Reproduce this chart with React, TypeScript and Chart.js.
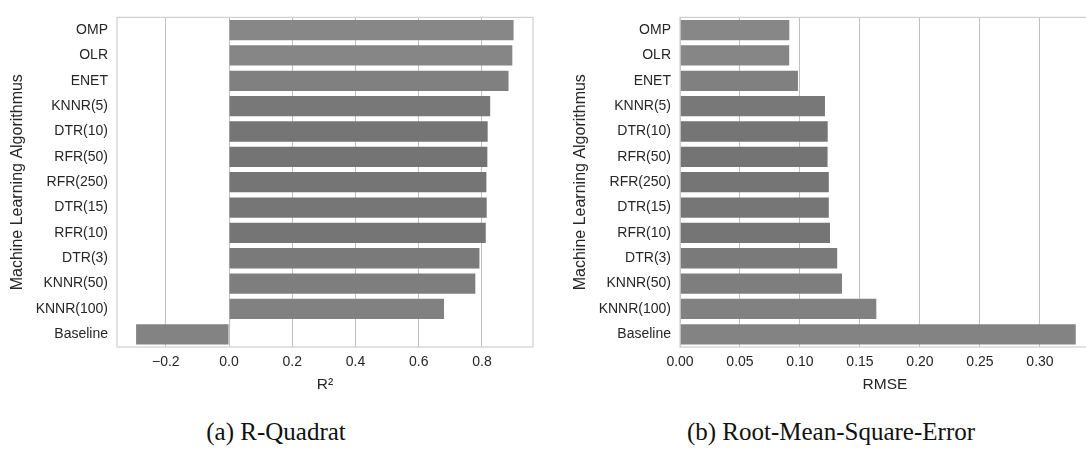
import React, { useEffect, useRef } from "react";
import { Chart, registerables } from "chart.js";

Chart.register(...registerables);

const ALGORITHMS = [
  "OMP", "OLR", "ENET", "KNNR(5)", "DTR(10)", "RFR(50)", "RFR(250)",
  "DTR(15)", "RFR(10)", "DTR(3)", "KNNR(50)", "KNNR(100)", "Baseline",
];

const R2_VALUES = [0.900, 0.896, 0.884, 0.826, 0.818, 0.817, 0.814, 0.815, 0.812, 0.792, 0.779, 0.680, -0.294];
const RMSE_VALUES = [0.0911, 0.0910, 0.0983, 0.1208, 0.1231, 0.1230, 0.1240, 0.1240, 0.1250, 0.1310, 0.1350, 0.1636, 0.3298];

const R2_TICKS = [-0.2, 0.0, 0.2, 0.4, 0.6, 0.8];
const R2_TICK_LABELS = ["\u22120.2", "0.0", "0.2", "0.4", "0.6", "0.8"];
const RMSE_TICKS = [0.0, 0.05, 0.1, 0.15, 0.2, 0.25, 0.3];
const RMSE_TICK_LABELS = ["0.00", "0.05", "0.10", "0.15", "0.20", "0.25", "0.30"];

const BAR_COLORS = [
  "#878787", "#868686", "#808080", "#787878", "#757575", "#747474", "#757575",
  "#767676", "#757575", "#7a7a7a", "#7e7e7e", "#818181", "#838383",
];

const SANS = "'Liberation Sans', Arial, sans-serif";
const TEXT = "#262626";

const frame = {
  id: "frame",
  afterDatasetsDraw(chart: any) {
    const { ctx, chartArea: a } = chart;
    ctx.save();
    ctx.strokeStyle = "#cfcfcf";
    ctx.lineWidth = 1.25;
    ctx.strokeRect(a.left, a.top, a.right - a.left, a.bottom - a.top);
    ctx.restore();
  },
};

function makeConfig(values: number[], ticks: number[], tickLabels: string[], min: number, max: number, xTitle: string, padRight: number) {
  return {
    type: "bar",
    data: {
      labels: ALGORITHMS,
      datasets: [
        {
          data: values,
          backgroundColor: BAR_COLORS,
          borderWidth: 0,
          barPercentage: 0.8,
          categoryPercentage: 1.0,
        },
      ],
    },
    options: {
      indexAxis: "y",
      animation: false,
      responsive: false,
      maintainAspectRatio: false,
      devicePixelRatio: 1,
      layout: { padding: { top: 10, right: padRight, left: 0, bottom: 0 } },
      plugins: { legend: { display: false }, tooltip: { enabled: false } },
      scales: {
        x: {
          type: "linear",
          min,
          max,
          grid: { color: "#bfbfbf", lineWidth: 1, drawTicks: false },
          border: { display: false },
          afterBuildTicks: (s: any) => {
            s.ticks = ticks.map((v) => ({ value: v }));
          },
          ticks: {
            padding: 7,
            color: TEXT,
            font: { family: SANS, size: 14 },
            callback: (_v: any, i: number) => tickLabels[i],
          },
          title: {
            display: true,
            text: xTitle,
            color: TEXT,
            font: { family: SANS, size: 15.5 },
            padding: { top: 0, bottom: 6 },
          },
          afterFit: (s: any) => {
            s.height = 53;
          },
        },
        y: {
          type: "category",
          grid: { display: false, drawTicks: false },
          border: { display: false },
          ticks: { padding: 9, color: TEXT, font: { family: SANS, size: 14 } },
          title: {
            display: true,
            text: "Machine Learning Algorithmus",
            color: TEXT,
            font: { family: SANS, size: 16 },
            padding: { top: 8, bottom: 0 },
          },
          afterFit: (s: any) => {
            s.width = 117;
          },
        },
      },
    },
    plugins: [frame],
  };
}

function BarPanel(props: { config: any; left: number; width: number }) {
  const ref = useRef<HTMLCanvasElement | null>(null);
  useEffect(() => {
    if (!ref.current) return;
    const chart = new Chart(ref.current, props.config);
    return () => chart.destroy();
  }, []);
  return (
    <canvas
      ref={ref}
      width={props.width}
      height={400}
      style={{ position: "absolute", left: props.left, top: 0, width: props.width, height: 400 }}
    />
  );
}

const captionStyle: React.CSSProperties = {
  position: "absolute",
  top: 418,
  fontFamily: "'Liberation Serif', 'Times New Roman', serif",
  fontSize: 25,
  lineHeight: "28px",
  color: "#111",
  whiteSpace: "nowrap",
  transform: "translateX(-50%)",
};

export default function App() {
  const r2Config = makeConfig(R2_VALUES, R2_TICKS, R2_TICK_LABELS, -0.3544, 0.9614, "R\u00b2", 12);
  const rmseConfig = makeConfig(RMSE_VALUES, RMSE_TICKS, RMSE_TICK_LABELS, 0, 0.3417, "RMSE", 10);
  return (
    <div
      style={{
        position: "absolute",
        left: 0,
        top: 0,
        width: 1086,
        height: 450,
        overflow: "hidden",
        background: "#ffffff",
      }}
    >
      <BarPanel config={r2Config} left={0} width={545} />
      <BarPanel config={rmseConfig} left={563} width={537} />
      <div style={{ ...captionStyle, left: 276 }}>(a) R-Quadrat</div>
      <div style={{ ...captionStyle, left: 831 }}>(b) Root-Mean-Square-Error</div>
    </div>
  );
}
